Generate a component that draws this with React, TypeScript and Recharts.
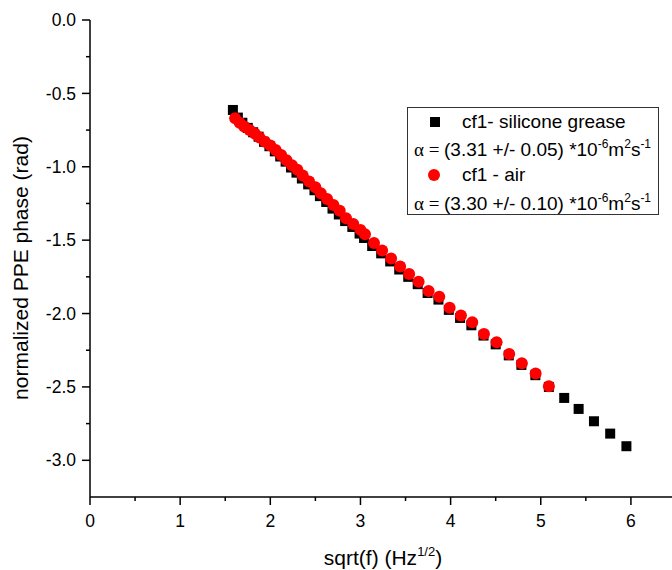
import { ScatterChart, Scatter, XAxis, YAxis, Legend, Label } from "recharts";

// cf1 - silicone grease (black squares)
const greaseX = [
  1.585, 1.64, 1.69, 1.75, 1.81, 1.87, 1.93, 1.99, 2.05, 2.11, 2.17, 2.23, 2.29,
  2.35, 2.42, 2.49, 2.55, 2.62, 2.69, 2.76, 2.83, 2.91, 2.99, 3.04, 3.13, 3.23,
  3.33, 3.43, 3.53, 3.635, 3.745, 3.865, 3.98, 4.105, 4.23, 4.365, 4.5, 4.645,
  4.785, 4.94, 5.09, 5.26, 5.42, 5.59, 5.77, 5.95,
];
const greaseY = [
  -0.613, -0.665, -0.7, -0.735, -0.765, -0.795, -0.83, -0.86, -0.895, -0.93,
  -0.965, -1.005, -1.04, -1.08, -1.12, -1.16, -1.2, -1.24, -1.285, -1.325, -1.37,
  -1.41, -1.455, -1.485, -1.54, -1.59, -1.645, -1.7, -1.75, -1.8, -1.86, -1.905,
  -1.975, -2.03, -2.08, -2.15, -2.21, -2.285, -2.35, -2.42, -2.5, -2.575, -2.65,
  -2.734, -2.818, -2.904,
];

// cf1 - air (red circles)
const airX = [
  1.61, 1.66, 1.71, 1.77, 1.83, 1.88, 1.94, 2.0, 2.06, 2.12, 2.18, 2.24, 2.3,
  2.36, 2.43, 2.5, 2.56, 2.63, 2.7, 2.77, 2.84, 2.92, 3.0, 3.05, 3.15, 3.24,
  3.34, 3.44, 3.54, 3.645, 3.756, 3.874, 3.989, 4.114, 4.24, 4.37, 4.51, 4.65,
  4.79, 4.943, 5.09,
];
const airY = [
  -0.67, -0.7, -0.725, -0.75, -0.775, -0.8, -0.83, -0.855, -0.885, -0.92, -0.955,
  -0.99, -1.02, -1.06, -1.1, -1.14, -1.18, -1.22, -1.26, -1.3, -1.35, -1.39,
  -1.43, -1.46, -1.52, -1.57, -1.625, -1.68, -1.73, -1.784, -1.847, -1.886,
  -1.961, -2.013, -2.06, -2.139, -2.195, -2.275, -2.338, -2.408, -2.495,
];

const xTicks = [0, 0.5, 1, 1.5, 2, 2.5, 3, 3.5, 4, 4.5, 5, 5.5, 6];
const yTicks = [
  0, -0.25, -0.5, -0.75, -1, -1.25, -1.5, -1.75, -2, -2.25, -2.5, -2.75, -3,
];

const greaseData = greaseX.map((x, i) => ({ x, y: greaseY[i] }));
const airData = airX.map((x, i) => ({ x, y: airY[i] }));

const XTick = (props: any) => {
  const { x, y, payload } = props;
  const v = payload.value;
  const major = Number.isInteger(v);
  return (
    <g>
      <line x1={x} x2={x} y1={y} y2={y + (major ? 8 : 4)} stroke="#000" strokeWidth={1.5} />
      {major && (
        <text x={x} y={y + 30} textAnchor="middle" fontSize={17.5} fill="#000">
          {String(v)}
        </text>
      )}
    </g>
  );
};

const YTick = (props: any) => {
  const { x, y, payload } = props;
  const v = payload.value;
  const major = Math.abs(v * 2 - Math.round(v * 2)) < 1e-6;
  return (
    <g>
      <line x1={x} x2={x - (major ? 8 : 4)} y1={y} y2={y} stroke="#000" strokeWidth={1.5} />
      {major && (
        <text x={x - 14} y={y} dy="0.35em" textAnchor="end" fontSize={17.5} fill="#000">
          {v.toFixed(1)}
        </text>
      )}
    </g>
  );
};

const Square = (p: any) => (
  <rect x={p.cx - 5} y={p.cy - 5} width={10} height={10} fill="#000" />
);
const Dot = (p: any) => <circle cx={p.cx} cy={p.cy} r={6} fill="#ff0000" />;

const AlphaLine = ({ y, value }: { y: number; value: string }) => (
  <text y={y} fontSize={19} fill="#000">
    <tspan x={6} fontFamily="'Liberation Serif', serif">α =</tspan>
    <tspan x={36}>{value} *10</tspan>
    <tspan dy={-8} fontSize={12}>-6</tspan>
    <tspan dy={8}>m</tspan>
    <tspan dy={-8} fontSize={12}>2</tspan>
    <tspan dy={8}>s</tspan>
    <tspan dy={-8} fontSize={12}>-1</tspan>
  </text>
);

const LegendBox = () => (
  <div
    style={{
      width: 252,
      height: 108,
      border: "1px solid #333",
      background: "#fff",
      boxSizing: "border-box",
    }}
  >
    <svg width={250} height={106} style={{ display: "block" }}>
      <rect x={22} y={9} width={10} height={10} fill="#000" />
      <text x={54} y={19.5} fontSize={19} fill="#000">cf1- silicone grease</text>
      <AlphaLine y={47.5} value="(3.31 +/- 0.05)" />
      <circle cx={26} cy={67} r={6} fill="#ff0000" />
      <text x={54} y={73} fontSize={19} fill="#000">cf1 - air</text>
      <AlphaLine y={101.5} value="(3.30 +/- 0.10)" />
    </svg>
  </div>
);

export default function App() {
  return (
    <div
      style={{
        width: 672,
        height: 570,
        overflow: "hidden",
        position: "relative",
        fontFamily: "'Liberation Sans', Arial, sans-serif",
      }}
    >
      <style>{"body{margin:0}"}</style>
      <ScatterChart
        width={688}
        height={570}
        margin={{ top: 20, right: 12, bottom: 0, left: 0 }}
      >
        <XAxis
          type="number"
          dataKey="x"
          domain={[0, 6.5]}
          allowDataOverflow
          ticks={xTicks}
          interval={0}
          height={73}
          tickSize={0}
          tickMargin={0}
          tickLine={false}
          tick={<XTick />}
          axisLine={{ stroke: "#000", strokeWidth: 1.5 }}
        >
          <Label
            content={() => (
              <text x={383} y={565} textAnchor="middle" fontSize={21} fill="#000">
                sqrt(f) (Hz
                <tspan dy={-9} fontSize={13}>1/2</tspan>
                <tspan dy={9}>)</tspan>
              </text>
            )}
          />
        </XAxis>
        <YAxis
          type="number"
          dataKey="y"
          domain={[-3.25, 0]}
          allowDataOverflow
          ticks={yTicks}
          interval={0}
          width={90}
          tickSize={0}
          tickMargin={0}
          tickLine={false}
          tick={<YTick />}
          axisLine={{ stroke: "#000", strokeWidth: 1.5 }}
        >
          <Label
            content={() => (
              <text
                x={28}
                y={268}
                transform="rotate(-90 28 268)"
                textAnchor="middle"
                fontSize={21}
                fill="#000"
              >
                normalized PPE phase (rad)
              </text>
            )}
          />
        </YAxis>
        <Legend
          layout="horizontal"
          verticalAlign="middle"
          align="center"
          content={() => <LegendBox />}
          wrapperStyle={{ left: 407, top: 107, width: 252, height: 108 }}
        />
        <Scatter
          name="cf1- silicone grease"
          data={greaseData}
          shape={<Square />}
          isAnimationActive={false}
        />
        <Scatter
          name="cf1 - air"
          data={airData}
          shape={<Dot />}
          isAnimationActive={false}
        />
      </ScatterChart>
    </div>
  );
}
